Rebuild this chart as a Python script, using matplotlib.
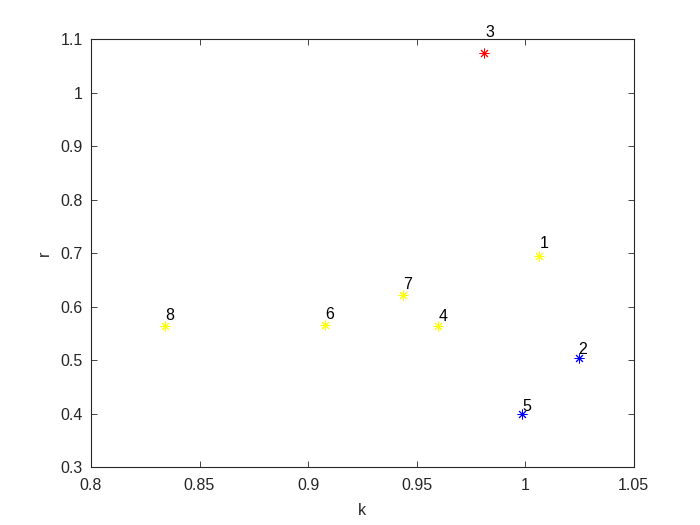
import matplotlib.pyplot as plt

plt.rcParams['font.family'] = ['Liberation Sans', 'DejaVu Sans']

# k, r values for each numbered sample
labels = ['1', '2', '3', '4', '5', '6', '7', '8']
k = [1.0063, 1.0247, 0.9809, 0.9601, 0.9986, 0.9078, 0.9436, 0.8339]
r = [0.6958, 0.5050, 1.0741, 0.5645, 0.3988, 0.5658, 0.6220, 0.5645]
groups = ['y', 'b', 'r', 'y', 'b', 'y', 'y', 'y']

colours = {'y': (1, 1, 0), 'b': (0, 0, 1), 'r': (1, 0, 0)}
# label offsets from each point, in pixels
label_dx = [1.5, 0, 1.5, 0.5, 0.5, 0.5, 0.5, 0.5]
label_dy = [8, 4, 16, 5, 3, 6, 6, 6]

fig = plt.figure(figsize=(7, 5.25), dpi=100)
ax = fig.add_axes([0.13, 0.11, 0.775, 0.815])

for i, lab in enumerate(labels):
    ax.plot(k[i], r[i], linestyle='none', marker=(8, 2, 0), markersize=7,
            markeredgewidth=0.7, color=colours[groups[i]])
    ax.annotate(lab, (k[i], r[i]), xytext=(label_dx[i], label_dy[i]),
                textcoords='offset pixels', ha='left', va='baseline',
                fontsize=11.5)

ax.set_xlim(0.8, 1.05)
ax.set_ylim(0.3, 1.1)
ax.set_xticks([0.8, 0.85, 0.9, 0.95, 1.0, 1.05])
ax.set_xticklabels(['0.8', '0.85', '0.9', '0.95', '1', '1.05'])
ax.set_yticks([0.3, 0.4, 0.5, 0.6, 0.7, 0.8, 0.9, 1.0, 1.1])
ax.set_yticklabels(['0.3', '0.4', '0.5', '0.6', '0.7', '0.8', '0.9', '1', '1.1'])
ax.tick_params(direction='in', top=True, right=True, labelsize=11.5,
               length=4, width=0.6, colors='#262626')
ax.tick_params(axis='x', pad=8)
ax.tick_params(axis='y', pad=6)
for s in ax.spines.values():
    s.set_linewidth(0.8)
    s.set_color('#262626')
ax.set_xlabel('k', fontsize=11.5, color='#262626', labelpad=7)
ax.set_ylabel('r', fontsize=11.5, color='#262626', labelpad=6)

fig.savefig('out.png', dpi=100)
